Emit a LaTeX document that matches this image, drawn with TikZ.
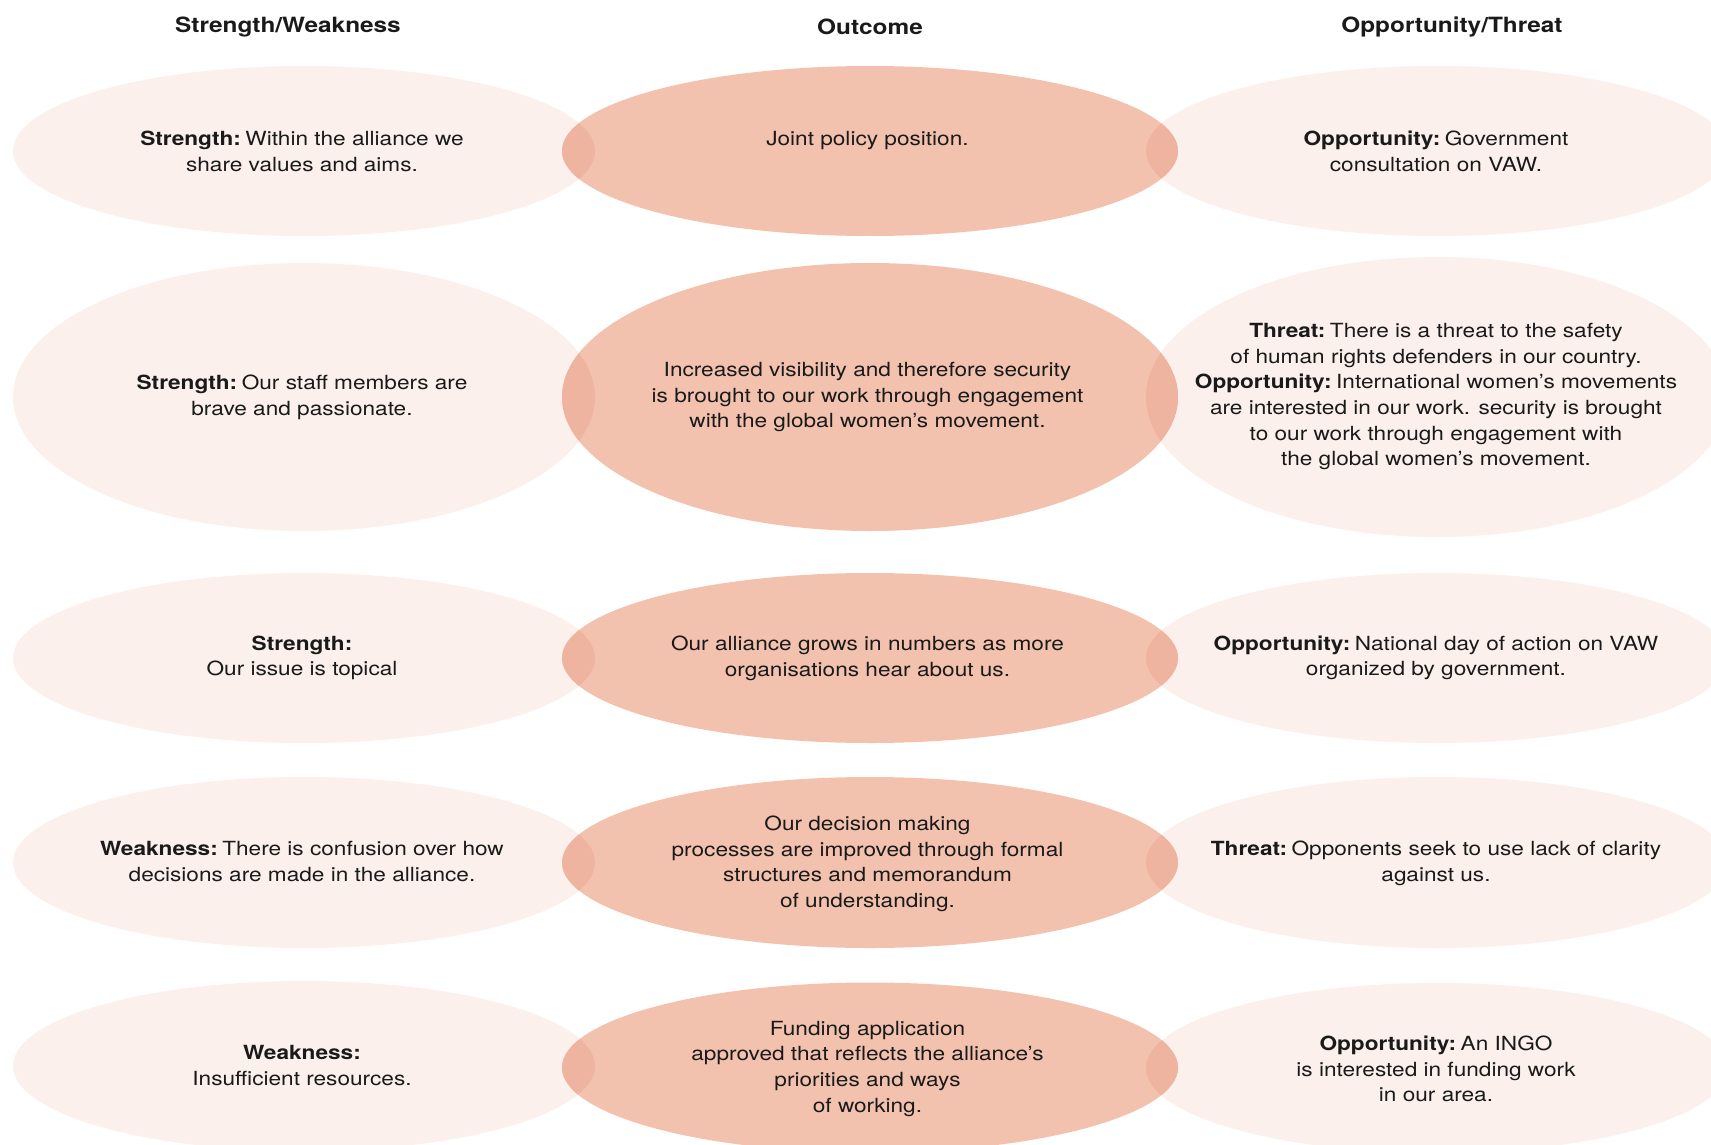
\documentclass[tikz,border=0pt]{standalone}
\usepackage{fontspec}
\setmainfont[FakeStretch=1.16]{TeX Gyre Heros}
\usetikzlibrary{shapes.geometric}
\definecolor{lightc}{RGB}{251,240,235}
\definecolor{midc}{RGB}{242,194,174}
\definecolor{ovlc}{RGB}{238,180,160}
\definecolor{txtc}{RGB}{26,26,26}
\tikzset{
  lightell/.style={ellipse, fill=lightc, draw=none, inner sep=0pt},
  midell/.style={ellipse, fill=midc, draw=none, inner sep=0pt},
  txt/.style={align=center, text=txtc, inner sep=0pt, font=\fontsize{19.5pt}{25.7pt}\selectfont},
  hdr/.style={text=txtc, inner sep=0pt, font=\fontsize{21pt}{25pt}\selectfont\bfseries},
}
\newcommand{\lbl}[1]{\textbf{#1}\hspace{4.5pt}}
\newcommand{\ovlp}[6]{% light center, light rx, light ry, mid center, mid rx, mid ry
  \begin{scope}
    \clip (#1) ellipse [x radius=#2pt, y radius=#3pt];
    \fill[ovlc] (#4) ellipse [x radius=#5pt, y radius=#6pt];
  \end{scope}}
\begin{document}
\begin{tikzpicture}[x=1pt,y=-1pt]
\useasboundingbox (0,0) rectangle (1711,1145);
\clip (0,0) rectangle (1711,1145);
\fill[white] (0,0) rectangle (1711,1145);
% headers
\node[hdr] (h1) at (288,27) {Strength/Weakness};
\node[hdr] (h2) at (870,27) {Outcome};
\node[hdr] (h3) at (1452,27) {Opportunity/Threat};
% row 1
\node[lightell, minimum width=582pt, minimum height=170pt] (l1) at (304,151) {};
\node[lightell, minimum width=582pt, minimum height=170pt] (r1) at (1437,151) {};
\node[midell, minimum width=616pt, minimum height=170pt] (m1) at (870,151) {};
% row 2
\node[lightell, minimum width=582pt, minimum height=268pt] (l2) at (304,397) {};
\node[lightell, minimum width=582pt, minimum height=280pt] (r2) at (1437,397) {};
\node[midell, minimum width=616pt, minimum height=268pt] (m2) at (870,397) {};
% row 3
\node[lightell, minimum width=582pt, minimum height=170pt] (l3) at (304,658) {};
\node[lightell, minimum width=582pt, minimum height=170pt] (r3) at (1437,658) {};
\node[midell, minimum width=616pt, minimum height=170pt] (m3) at (870,658) {};
% row 4
\node[lightell, minimum width=582pt, minimum height=171pt] (l4) at (304,862.5) {};
\node[lightell, minimum width=582pt, minimum height=171pt] (r4) at (1437,862.5) {};
\node[midell, minimum width=616pt, minimum height=171pt] (m4) at (870,862.5) {};
% row 5
\node[lightell, minimum width=582pt, minimum height=170pt] (l5) at (304,1066) {};
\node[lightell, minimum width=582pt, minimum height=170pt] (r5) at (1437,1068) {};
\node[midell, minimum width=616pt, minimum height=170pt] (m5) at (870,1067.5) {};
% overlaps
\ovlp{l1.center}{291}{85}{m1.center}{308}{85}
\ovlp{r1.center}{291}{85}{m1.center}{308}{85}
\ovlp{l2.center}{291}{134}{m2.center}{308}{134}
\ovlp{r2.center}{291}{140}{m2.center}{308}{134}
\ovlp{l3.center}{291}{85}{m3.center}{308}{85}
\ovlp{r3.center}{291}{85}{m3.center}{308}{85}
\ovlp{l4.center}{291}{85.5}{m4.center}{308}{85.5}
\ovlp{r4.center}{291}{85.5}{m4.center}{308}{85.5}
\ovlp{l5.center}{291}{85}{m5.center}{308}{85}
\ovlp{r5.center}{291}{85}{m5.center}{308}{85}
% texts row 1
\node[txt] (l1t) at (302,151.7) {\lbl{Strength:}Within the alliance we\\share values and aims.};
\node[txt] (m1t) at (867.5,140.6) {Joint policy position.};
\node[txt] (r1t) at (1436,151.7) {\lbl{Opportunity:}Government\\consultation on VAW.};
% row 2
\node[txt] (l2t) at (302,397) {\lbl{Strength:}Our staff members are\\brave and passionate.};
\node[txt] (m2t) at (867.5,397) {Increased visibility and therefore security\\is brought to our work through engagement\\with the global women’s movement.};
\node[txt] (r2t) at (1436,396.7) {\lbl{Threat:}There is a threat to the safety\\of human rights defenders in our country.\\\lbl{Opportunity:}International women’s movements\\are interested in our work. security is brought\\to our work through engagement with\\the global women’s movement.};
% row 3
\node[txt] (l3t) at (302,658) {\textbf{Strength:}\\Our issue is topical};
\node[txt] (m3t) at (867.5,658) {Our alliance grows in numbers as more\\organisations hear about us.};
\node[txt] (r3t) at (1436,658) {\lbl{Opportunity:}National day of action on VAW\\organized by government.};
% row 4
\node[txt] (l4t) at (302,861.5) {\lbl{Weakness:}There is confusion over how\\decisions are made in the alliance.};
\node[txt] (m4t) at (867.5,863.7) {Our decision making\\processes are improved through formal\\structures and memorandum\\of understanding.};
\node[txt] (r4t) at (1436,863) {\lbl{Threat:}Opponents seek to use lack of clarity\\against us.};
% row 5
\node[txt] (l5t) at (302,1065.5) {\textbf{Weakness:}\\Insufficient resources.};
\node[txt] (m5t) at (867.5,1068.8) {Funding application\\approved that reflects the alliance’s\\priorities and ways\\of working.};
\node[txt] (r5t) at (1436,1069) {\lbl{Opportunity:}An INGO\\is interested in funding work\\in our area.};
\end{tikzpicture}
\end{document}
